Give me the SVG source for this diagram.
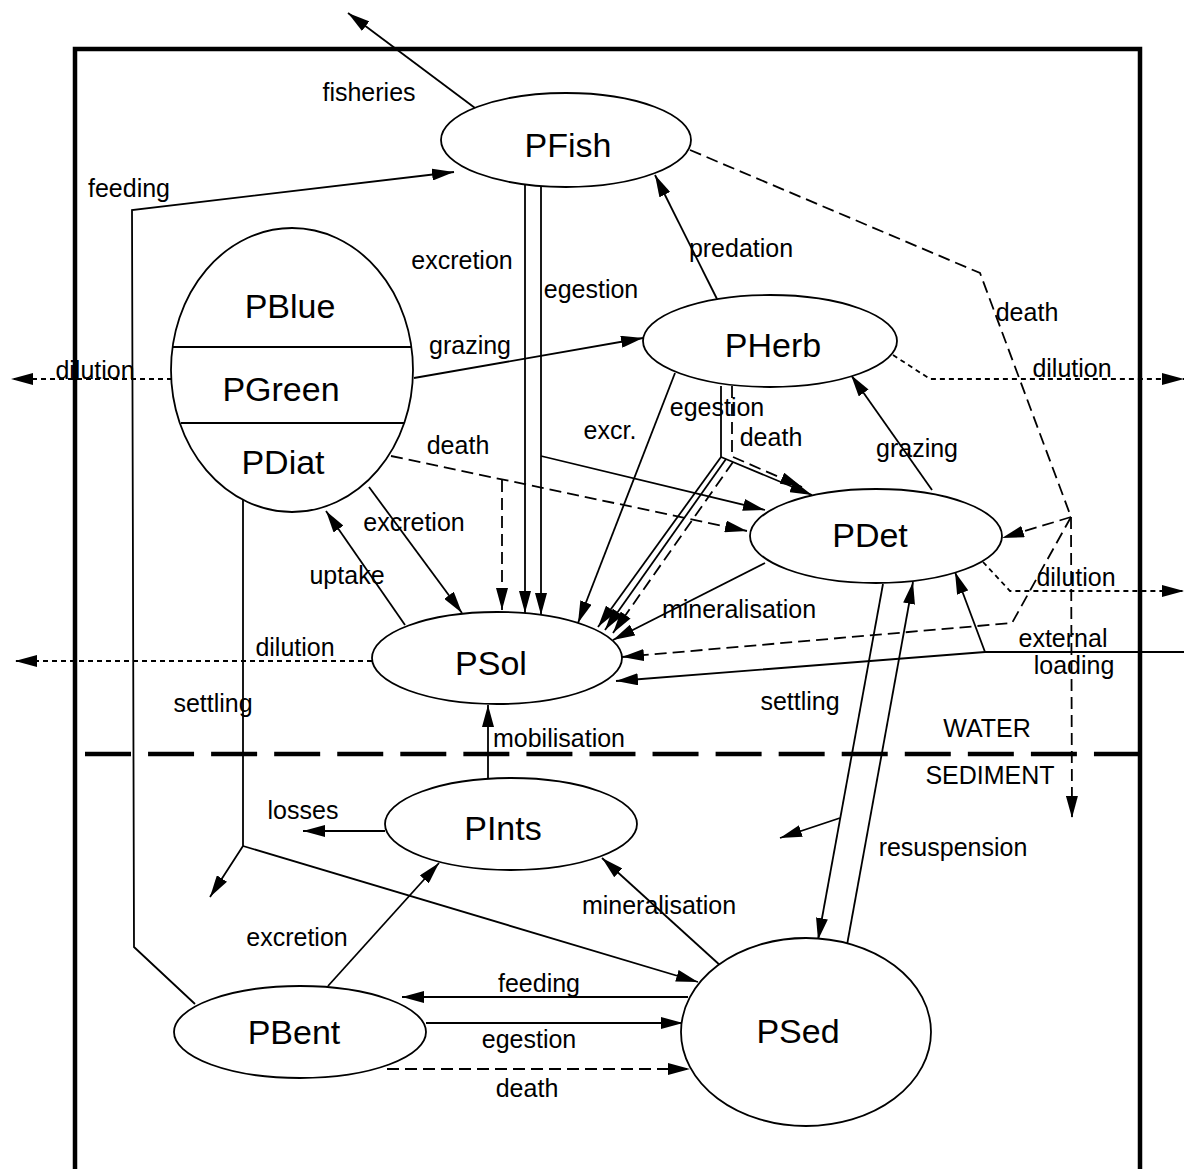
<svg xmlns="http://www.w3.org/2000/svg" width="1184" height="1169" viewBox="0 0 1184 1169">
<style>
.node ellipse{fill:#fff;stroke:#000;stroke-width:1.8}
.node line{stroke:#000;stroke-width:1.8}
.nt{font-family:"Liberation Sans",Arial,Helvetica,sans-serif;font-size:34px;fill:#000;text-anchor:middle}
.lb{font-family:"Liberation Sans",Arial,Helvetica,sans-serif;font-size:25px;fill:#000;text-anchor:middle}
.c{fill:none;stroke:#000;stroke-width:1.8}
.a{marker-end:url(#ah)}
.d{stroke-dasharray:12 6}
.o{stroke-dasharray:5 4}
</style>
<defs>
<marker id="ah" markerWidth="22" markerHeight="12" refX="22" refY="6" orient="auto" markerUnits="userSpaceOnUse"><path d="M0,0 L22,6 L0,12 z" fill="#000" stroke="none"/></marker>
</defs>
<rect width="1184" height="1169" fill="#fff"/>
<g id="frame">
<path d="M75,1169 V49 H1140 V1169" fill="none" stroke="#000" stroke-width="4.5"/>
<path d="M85,754 H1140" fill="none" stroke="#000" stroke-width="4.5" stroke-dasharray="46 17.06"/>
<text class="lb" x="987" y="737">WATER</text>
<text class="lb" x="990" y="784">SEDIMENT</text>
</g>
<g id="connectors">
<path class="c a" d="M475,108 L348,13"/>
<path class="c a" d="M195,1004 L134,947 L132,210 L454,172"/>
<path class="c a" d="M414,378 L643,338"/>
<path class="c a o" d="M172,379 L11,379"/>
<path class="c a" d="M525,184 L525,613"/>
<path class="c a" d="M541,187 L541,615"/>
<path class="c a" d="M541,456 L765,510"/>
<path class="c a d" d="M391,456 L747,531"/>
<path class="c a d" d="M502,480 L502,610"/>
<path class="c a" d="M369,487 L462,613"/>
<path class="c a" d="M405,625 L326,511"/>
<path class="c a" d="M243,500 L243,846 L210,897"/>
<path class="c a" d="M243,846 L698,982"/>
<path class="c a o" d="M372,661 L15,661"/>
<path class="c a" d="M717,299 L655,175"/>
<path class="c d" d="M690,150 L980,273 L1071,517"/>
<path class="c a d" d="M1071,517 L1002,538"/>
<path class="c a d" d="M1071,517 L1012,623 L622,657"/>
<path class="c a d" d="M1071,517 L1072,818"/>
<path class="c a o" d="M893,355 L930,379 L1184,379"/>
<path class="c a o" d="M983,562 L1010,591 L1184,591"/>
<path class="c a" d="M675,373 L578,623"/>
<path class="c" d="M721,386 L721,457"/>
<path class="c d" d="M732,386 L732,457"/>
<path class="c a" d="M721,457 L812,495"/>
<path class="c a d" d="M733,457 L802,487"/>
<path class="c a" d="M721,457 L598,627"/>
<path class="c a" d="M726,459 L605,630"/>
<path class="c a d" d="M733,462 L613,633"/>
<path class="c a" d="M765,563 L613,640"/>
<path class="c a" d="M932,490 L851,375"/>
<path class="c a" d="M1184,652 L985,652 L616,681"/>
<path class="c a" d="M985,652 L955,572"/>
<path class="c a" d="M883,584 L818,940"/>
<path class="c a" d="M840,818 L780,838"/>
<path class="c a" d="M847,945 L913,582"/>
<path class="c a" d="M488,778 L488,705"/>
<path class="c a" d="M385,831 L303,831"/>
<path class="c a" d="M328,986 L439,863"/>
<path class="c a" d="M722,967 L602,858"/>
<path class="c a" d="M688,997 L402,997"/>
<path class="c a" d="M426,1023 L683,1023"/>
<path class="c a d" d="M387,1069 L690,1069"/>
</g>
<g id="labels">
<text class="lb" x="369" y="101">fisheries</text>
<text class="lb" x="129" y="197">feeding</text>
<text class="lb" x="462" y="269">excretion</text>
<text class="lb" x="591" y="298">egestion</text>
<text class="lb" x="741" y="257">predation</text>
<text class="lb" x="1027" y="321">death</text>
<text class="lb" x="470" y="354">grazing</text>
<text class="lb" x="95" y="379">dilution</text>
<text class="lb" x="1072" y="377">dilution</text>
<text class="lb" x="717" y="416">egestion</text>
<text class="lb" x="610" y="439">excr.</text>
<text class="lb" x="771" y="446">death</text>
<text class="lb" x="458" y="454">death</text>
<text class="lb" x="917" y="457">grazing</text>
<text class="lb" x="414" y="531">excretion</text>
<text class="lb" x="347" y="584">uptake</text>
<text class="lb" x="1076" y="586">dilution</text>
<text class="lb" x="739" y="618">mineralisation</text>
<text class="lb" x="1063" y="647">external</text>
<text class="lb" x="1074" y="674">loading</text>
<text class="lb" x="295" y="656">dilution</text>
<text class="lb" x="213" y="712">settling</text>
<text class="lb" x="800" y="710">settling</text>
<text class="lb" x="559" y="747">mobilisation</text>
<text class="lb" x="303" y="819">losses</text>
<text class="lb" x="953" y="856">resuspension</text>
<text class="lb" x="659" y="914">mineralisation</text>
<text class="lb" x="297" y="946">excretion</text>
<text class="lb" x="539" y="992">feeding</text>
<text class="lb" x="529" y="1048">egestion</text>
<text class="lb" x="527" y="1097">death</text>
</g>
<g id="PFish" class="node"><ellipse cx="566" cy="140" rx="125" ry="47"/><text class="nt" x="568" y="157">PFish</text></g>
<g id="PPhyto" class="node"><ellipse cx="292" cy="370" rx="121" ry="142"/><line x1="173" y1="347" x2="411" y2="347"/><line x1="181" y1="423" x2="404" y2="423"/><text class="nt" x="290" y="318">PBlue</text><text class="nt" x="281" y="401">PGreen</text><text class="nt" x="283" y="474">PDiat</text></g>
<g id="PHerb" class="node"><ellipse cx="770" cy="341" rx="127" ry="46"/><text class="nt" x="773" y="357">PHerb</text></g>
<g id="PDet" class="node"><ellipse cx="876" cy="536" rx="126" ry="47"/><text class="nt" x="870" y="547">PDet</text></g>
<g id="PSol" class="node"><ellipse cx="497" cy="658" rx="125" ry="46"/><text class="nt" x="491" y="675">PSol</text></g>
<g id="PInts" class="node"><ellipse cx="511" cy="824" rx="126" ry="46"/><text class="nt" x="503" y="840">PInts</text></g>
<g id="PBent" class="node"><ellipse cx="300" cy="1032" rx="126" ry="46"/><text class="nt" x="294" y="1044">PBent</text></g>
<g id="PSed" class="node"><ellipse cx="806" cy="1032" rx="125" ry="94"/><text class="nt" x="798" y="1043">PSed</text></g>
</svg>
